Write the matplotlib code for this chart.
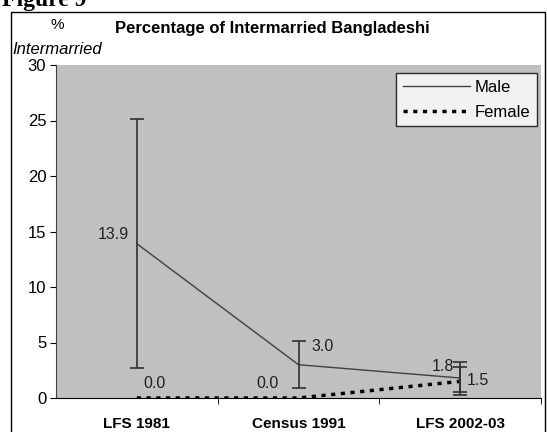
import matplotlib
matplotlib.use("Agg")
import matplotlib.pyplot as plt
from matplotlib.patches import Rectangle

# Data:
categories = ["LFS 1981", "Census 1991", "LFS 2002-03"]
male = [13.9, 3.0, 1.8]
male_low = [2.7, 0.9, 0.5]
male_high = [25.1, 5.1, 3.2]
female = [0.0, 0.0, 1.5]
female_low = [None, None, 0.3]
female_high = [None, None, 2.8]
yticks = [0, 5, 10, 15, 20, 25, 30]

plt.rcParams['font.family'] = ['Liberation Sans Narrow', 'Liberation Sans', 'DejaVu Sans']

fig = plt.figure(figsize=(5.47, 4.32), dpi=100)
W, H = 547.0, 432.0

# Outer frame of the chart object
fig.patches.append(Rectangle((11 / W, -0.05), 534 / W, 1.05 - 12 / H,
                             transform=fig.transFigure, fill=False,
                             edgecolor='black', linewidth=1.0))

# "Figure 9" caption, cut at top edge
fig.text(2 / W, 1 - 6 / H, "Figure 9", fontsize=17, fontweight='bold',
         family=['Liberation Serif', 'DejaVu Serif'], va='baseline', ha='left')

ax = fig.add_axes([56 / W, 1 - 398 / H, (541 - 56) / W, (398 - 65) / H])
ax.set_facecolor('#c0c0c0')

x = [0, 1, 2]

# Male series with error bars
m_err = [[m - lo for m, lo in zip(male, male_low)],
         [hi - m for m, hi in zip(male, male_high)]]
ax.plot(x, male, color='#404040', linewidth=1.0, label='Male', zorder=3)
ax.errorbar(x, male, yerr=m_err, fmt='none', ecolor='#303030',
            elinewidth=1.2, capsize=5, capthick=1.2, zorder=4)

# Female series
ax.plot(x, female, color='black', linewidth=2.5, linestyle=(0, (1.2, 1.6)),
        label='Female', zorder=3)
f_err = [[female[2] - female_low[2]], [female_high[2] - female[2]]]
ax.errorbar([x[2]], [female[2]], yerr=f_err, fmt='none', ecolor='#303030',
            elinewidth=1.2, capsize=5, capthick=1.2, zorder=4)

# Data labels
lab_kw = dict(fontsize=11.5, color='#202020')
ax.text(x[0] - 0.05, male[0] + 0.8, "%.1f" % male[0], ha='right', va='center', **lab_kw)
ax.text(x[1] + 0.08, male[1] + 1.6, "%.1f" % male[1], ha='left', va='center', **lab_kw)
ax.text(x[2] - 0.04, male[2] + 1.0, "%.1f" % male[2], ha='right', va='center', **lab_kw)
ax.text(x[2] + 0.04, female[2] + 0.1, "%.1f" % female[2], ha='left', va='center', **lab_kw)
ax.text(x[0] + 0.04, female[0] + 1.3, "%.1f" % female[0], ha='left', va='center', **lab_kw)
ax.text(x[1] - 0.12, female[1] + 1.3, "%.1f" % female[1], ha='right', va='center', **lab_kw)

ax.set_xlim(-0.5, 2.5)
ax.set_ylim(0, 30)
ax.set_yticks(yticks)
ax.set_yticklabels([str(t) for t in yticks], fontsize=12)
ax.set_xticks(x)
ax.set_xticklabels(categories, fontsize=11, fontweight='bold',
                   family=['Liberation Sans', 'DejaVu Sans'])
ax.set_xticks([0.5, 1.5, 2.5], minor=True)
ax.tick_params(axis='x', which='major', length=0, pad=14)
ax.tick_params(axis='x', which='minor', length=4, direction='out')
ax.tick_params(axis='y', length=4, direction='out', pad=3)
for side in ['top', 'right']:
    ax.spines[side].set_visible(False)
ax.spines['left'].set_color('#404040')
ax.spines['bottom'].set_color('black')

# Legend
leg = ax.legend(loc='upper right', bbox_to_anchor=(537 / W, 1 - 73 / H),
                bbox_transform=fig.transFigure, borderaxespad=0, frameon=True,
                fancybox=False, edgecolor='black', fontsize=12,
                handlelength=4, borderpad=0.4, labelspacing=0.6,
                handletextpad=0.3)
leg.get_frame().set_linewidth(1.0)

# Title and y label
fig.text(115 / W, 1 - 28 / H, "Percentage of Intermarried Bangladeshi",
         ha='left', va='center', fontsize=12, fontweight='bold',
         family=['Liberation Sans', 'DejaVu Sans'])
fig.text(57 / W, 1 - 25 / H, "%", ha='center', va='center', fontsize=11)
fig.text(57 / W, 1 - 50 / H, "Intermarried", ha='center', va='center',
         fontsize=12, style='italic')

fig.savefig("out.png", dpi=100)
